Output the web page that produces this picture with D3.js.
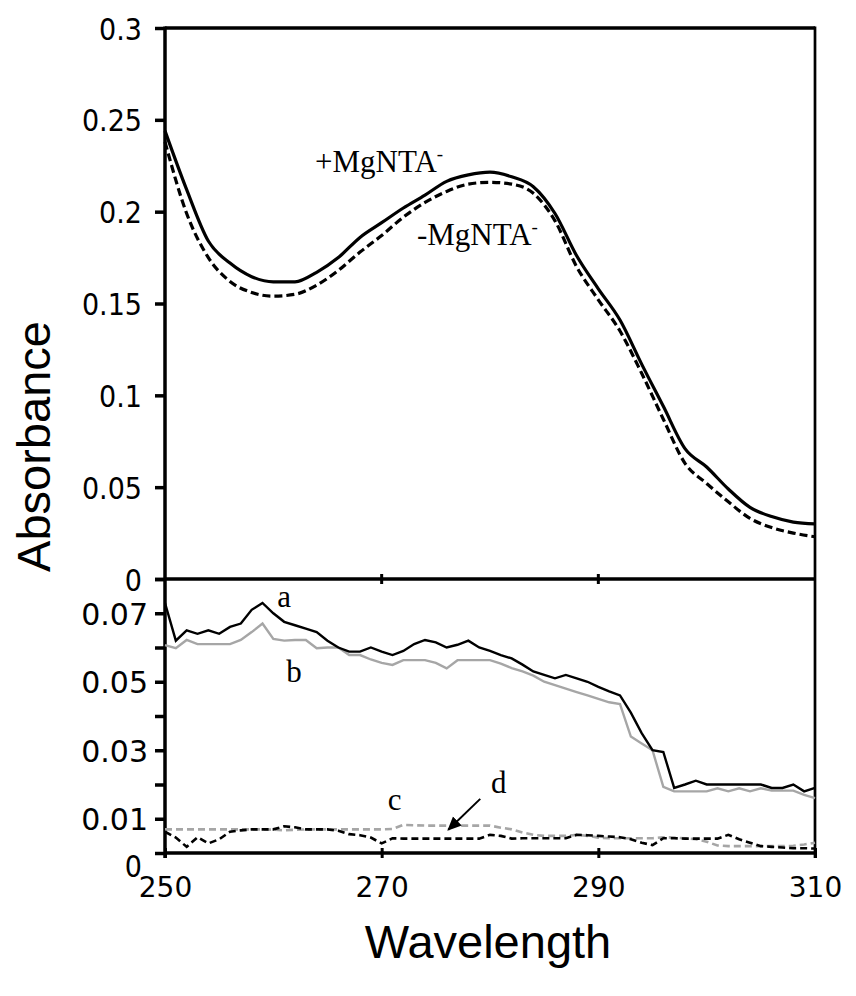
<!DOCTYPE html>
<html>
<head>
<meta charset="utf-8">
<script src="https://cdn.jsdelivr.net/npm/d3@7"></script>
<style>
  html, body { margin: 0; padding: 0; background: #fff; }
  svg { display: block; }
</style>
</head>
<body>
<svg id="chart" width="856" height="996"></svg>
<script>
// ---------- DATA ----------
// Upper panel: absorbance spectra (2 nm sampling)
const wlTop = [250,252,254,256,258,260,262,264,266,268,270,272,274,276,278,280,282,284,286,288,290,292,294,296,298,300,302,304,306,308,310];
const absPlus  = [0.244,0.212,0.184,0.172,0.1646,0.1618,0.1618,0.167,0.175,0.186,0.194,0.202,0.209,0.2165,0.220,0.2215,0.219,0.2136,0.199,0.176,0.158,0.141,0.117,0.094,0.071,0.061,0.049,0.039,0.034,0.031,0.030];
const absMinus = [0.238,0.199,0.175,0.162,0.156,0.154,0.155,0.160,0.168,0.178,0.187,0.197,0.205,0.211,0.215,0.216,0.215,0.210,0.195,0.170,0.152,0.135,0.112,0.087,0.063,0.052,0.042,0.033,0.028,0.025,0.023];

// Lower panel: difference curves (1 nm sampling)
const wlBottom = [250,251,252,253,254,255,256,257,258,259,260,261,262,263,264,265,266,267,268,269,270,271,272,273,274,275,276,277,278,279,280,281,282,283,284,285,286,287,288,289,290,291,292,293,294,295,296,297,298,299,300,301,302,303,304,305,306,307,308,309,310];
const seriesA = [0.073,0.062,0.065,0.064,0.065,0.064,0.066,0.067,0.071,0.073,0.070,0.0675,0.0665,0.0655,0.0645,0.062,0.060,0.0588,0.0588,0.060,0.0588,0.0578,0.059,0.061,0.0622,0.0615,0.060,0.0608,0.062,0.060,0.059,0.0578,0.0568,0.055,0.053,0.052,0.051,0.052,0.051,0.050,0.0485,0.0472,0.046,0.041,0.035,0.030,0.0295,0.019,0.020,0.0211,0.020,0.020,0.020,0.020,0.020,0.020,0.019,0.019,0.020,0.018,0.019];
const seriesB = [0.0607,0.0598,0.0622,0.061,0.061,0.061,0.061,0.0622,0.0645,0.067,0.0625,0.062,0.0622,0.0622,0.0598,0.060,0.060,0.0578,0.0578,0.0565,0.0555,0.0549,0.0563,0.0563,0.0563,0.0555,0.0539,0.0563,0.0563,0.0563,0.0563,0.0553,0.054,0.053,0.0518,0.050,0.049,0.048,0.047,0.046,0.045,0.044,0.0435,0.034,0.032,0.030,0.0193,0.018,0.018,0.018,0.018,0.0189,0.018,0.0189,0.018,0.0189,0.0182,0.0182,0.0182,0.017,0.016];
const seriesC = [0.0069,0.0069,0.0069,0.0069,0.0069,0.0069,0.0069,0.0069,0.0069,0.0069,0.0068,0.0066,0.0068,0.0069,0.0069,0.0069,0.0069,0.0069,0.0069,0.0069,0.0069,0.0070,0.0082,0.0081,0.008,0.008,0.008,0.008,0.008,0.008,0.008,0.0074,0.0069,0.006,0.0053,0.005,0.005,0.005,0.0053,0.005,0.0045,0.0043,0.0043,0.0043,0.0043,0.0043,0.0046,0.0045,0.0043,0.004,0.0033,0.0022,0.002,0.002,0.002,0.002,0.002,0.002,0.0021,0.0025,0.003];
const seriesD = [0.0062,0.0045,0.0018,0.0046,0.0028,0.004,0.0062,0.0066,0.0069,0.0069,0.0069,0.0078,0.0075,0.0069,0.0069,0.0069,0.0065,0.0055,0.0052,0.0045,0.0028,0.0043,0.0042,0.0042,0.0042,0.0042,0.0042,0.0042,0.0042,0.0042,0.0053,0.005,0.0042,0.0043,0.0043,0.0043,0.0043,0.0043,0.0053,0.0052,0.005,0.0048,0.0046,0.004,0.003,0.0023,0.0043,0.0043,0.0042,0.0042,0.0042,0.0042,0.0053,0.004,0.003,0.002,0.0018,0.0016,0.0014,0.0014,0.0013];

// Axis ticks / labels
const xTicks = [250,270,290,310];
const xTickLabels = ["250","270","290","310"];
const topYTicks = [0,0.05,0.1,0.15,0.2,0.25,0.3];
const topYTickLabels = ["0","0.05","0.1","0.15","0.2","0.25","0.3"];
const botYTicks = [0,0.01,0.02,0.03,0.04,0.05,0.06,0.07,0.08];
const botYTickLabels = ["0","0.01","","0.03","","0.05","","0.07",""];
const xTitle = "Wavelength";
const yTitle = "Absorbance";

// Annotations (data coordinates)
const topLabels = [
  {text:"+MgNTA", sup:"-", wl:263.85, v:0.2217},
  {text:"-MgNTA", sup:"-", wl:273.26, v:0.1818}
];
const bottomLabels = [
  {text:"a", wl:261.0, v:0.0718},
  {text:"b", wl:261.9, v:0.0499},
  {text:"c", wl:271.2, v:0.0126},
  {text:"d", wl:280.8, v:0.0175}
];
const arrowD = {fromWl:279.1, fromV:0.0158, toWl:276.15, toV:0.0068};

// ---------- LAYOUT ----------
const svg = d3.select("#chart");
const left = 165, right = 815;
const topY0 = 579, topY1 = 28;
const botY0 = 853, botY1 = 579;

const x = d3.scaleLinear().domain([250,310]).range([left,right]);
const yTop = d3.scaleLinear().domain([0,0.3]).range([topY0,topY1]);
const yBot = d3.scaleLinear().domain([0,0.08]).range([botY0,botY1]);

const numFontTop = "'DejaVu Sans Condensed','DejaVu Sans',sans-serif";
const numFont = "'DejaVu Sans',sans-serif";
const serif = "'Liberation Serif','Times New Roman',serif";
const sans = "'Liberation Sans',Arial,sans-serif";

// Frame lines
svg.append("line").attr("x1",left).attr("x2",right).attr("y1",topY1).attr("y2",topY1)
  .attr("stroke","#000").attr("stroke-width",3.5);
svg.append("line").attr("x1",right).attr("x2",right).attr("y1",topY1-1.5).attr("y2",botY0+5)
  .attr("stroke","#000").attr("stroke-width",2.7);
svg.append("line").attr("x1",left).attr("x2",right).attr("y1",topY0).attr("y2",topY0)
  .attr("stroke","#000").attr("stroke-width",3.5);

// Top y axis
const gTop = svg.append("g").attr("transform",`translate(${left},0)`)
  .call(d3.axisLeft(yTop).tickValues(topYTicks).tickFormat((d,i)=>topYTickLabels[i])
        .tickSizeInner(10).tickSizeOuter(0).tickPadding(13));
gTop.select(".domain").attr("stroke-width",3.5).attr("d",`M0,${topY1-1.5}V${topY0}`);
gTop.selectAll(".tick line").attr("stroke-width",3.5);
gTop.selectAll(".tick text").attr("font-family",numFontTop).attr("font-size",30).attr("fill","#000").attr("dy","0.37em");

// Bottom y axis
const gBot = svg.append("g").attr("transform",`translate(${left},0)`)
  .call(d3.axisLeft(yBot).tickValues(botYTicks).tickFormat((d,i)=>botYTickLabels[i])
        .tickSizeInner(10).tickSizeOuter(0).tickPadding(7));
gBot.select(".domain").attr("stroke-width",3.5).attr("d",`M0,${botY1}V${botY0+5}`);
gBot.selectAll(".tick line").attr("stroke-width",3.5);
gBot.selectAll(".tick text").attr("font-family",numFont).attr("font-size",30).attr("fill","#000").attr("dy","0.37em");
gBot.selectAll(".tick text").filter(d=>d===0)
  .attr("font-family",numFontTop).attr("x",-23).attr("dy","0.78em");

// Bottom x axis
const gX = svg.append("g").attr("transform",`translate(0,${botY0})`)
  .call(d3.axisBottom(x).tickValues(xTicks).tickFormat((d,i)=>xTickLabels[i])
        .tickSizeInner(5).tickSizeOuter(0).tickPadding(19));
gX.select(".domain").attr("stroke-width",3.5).attr("d",`M${left},0H${right}`);
gX.selectAll(".tick line").attr("stroke-width",3).attr("y1",-5).attr("y2",5);
gX.selectAll(".tick text").attr("font-family",numFont).attr("font-size",28).attr("fill","#000");

// middle line x ticks
svg.append("g").selectAll("line").data(xTicks.slice(1,3)).join("line")
  .attr("x1",d=>x(d)).attr("x2",d=>x(d)).attr("y1",topY0-5).attr("y2",topY0+5)
  .attr("stroke","#000").attr("stroke-width",3);

// ---------- TOP CURVES ----------
const lineTop = d3.line().x(d=>x(d[0])).y(d=>yTop(d[1])).curve(d3.curveMonotoneX);
svg.append("path").datum(wlTop.map((w,i)=>[w,absMinus[i]]))
  .attr("d",lineTop).attr("fill","none").attr("stroke","#000").attr("stroke-width",3.2)
  .attr("stroke-dasharray","8,4");
svg.append("path").datum(wlTop.map((w,i)=>[w,absPlus[i]]))
  .attr("d",lineTop).attr("fill","none").attr("stroke","#000").attr("stroke-width",3.2);

// ---------- BOTTOM CURVES ----------
const lineBot = d3.line().x(d=>x(d[0])).y(d=>yBot(d[1]));
const botSeries = [
  {vals:seriesC, color:"#a6a6a6", width:2.6, dash:"7,4"},
  {vals:seriesD, color:"#000", width:2.6, dash:"7,4"},
  {vals:seriesB, color:"#a6a6a6", width:2.4, dash:null},
  {vals:seriesA, color:"#000", width:2.4, dash:null}
];
botSeries.forEach(s=>{
  svg.append("path").datum(wlBottom.map((w,i)=>[w,s.vals[i]]))
    .attr("d",lineBot).attr("fill","none").attr("stroke",s.color)
    .attr("stroke-width",s.width).attr("stroke-dasharray",s.dash);
});

// ---------- ANNOTATIONS ----------
topLabels.forEach(l=>{
  const t = svg.append("text").attr("x",x(l.wl)).attr("y",yTop(l.v))
    .attr("font-family",serif).attr("font-size",31).attr("fill","#000");
  t.append("tspan").text(l.text);
  t.append("tspan").text(l.sup).attr("font-size",19).attr("dy",-12);
});
bottomLabels.forEach(l=>{
  svg.append("text").attr("x",x(l.wl)).attr("y",yBot(l.v)).attr("text-anchor","middle")
    .attr("font-family",serif).attr("font-size",31).attr("fill","#000").text(l.text);
});
svg.append("defs").append("marker").attr("id","arrow").attr("viewBox","0 0 10 10")
  .attr("refX",9).attr("refY",5).attr("markerWidth",7).attr("markerHeight",7)
  .attr("markerUnits","strokeWidth").attr("orient","auto")
  .append("path").attr("d","M0,0.5L10,5L0,9.5Z").attr("fill","#000");
svg.append("line").attr("x1",x(arrowD.fromWl)).attr("y1",yBot(arrowD.fromV))
  .attr("x2",x(arrowD.toWl)).attr("y2",yBot(arrowD.toV))
  .attr("stroke","#000").attr("stroke-width",2).attr("marker-end","url(#arrow)");

// ---------- TITLES ----------
svg.append("text").attr("x",(left+right)/2 - 2).attr("y",958).attr("text-anchor","middle")
  .attr("font-family",sans).attr("font-size",47).attr("fill","#000").text(xTitle);
svg.append("text").attr("transform",`translate(50,${(318+575)/2}) rotate(-90)`)
  .attr("text-anchor","middle").attr("font-family",sans).attr("font-size",47)
  .attr("fill","#000").text(yTitle);
</script>
</body>
</html>
